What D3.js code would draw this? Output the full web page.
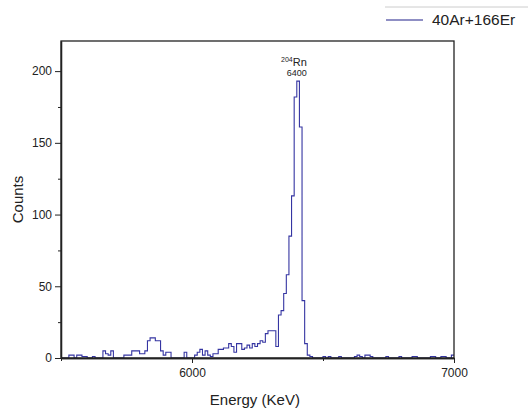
<!DOCTYPE html>
<html>
<head>
<meta charset="utf-8">
<script src="https://cdn.jsdelivr.net/npm/d3@7"></script>
<style>
  body { margin: 0; background: #fff; }
  svg { display: block; font-family: "Liberation Sans", Arial, sans-serif; }
</style>
</head>
<body>
<svg id="chart" width="528" height="413"></svg>
<script>
// Alpha spectrum, 40Ar+166Er, 10 keV bins starting at 5500 keV
const binStart = 5500;
const binWidth = 10;
const counts = [
    0, 0, 0, 2, 2, 0, 2, 2, 1, 1,
    0, 0, 1, 0, 0, 0, 5, 3, 2, 5,
    0, 0, 0, 0, 2, 2, 2, 5, 5, 5,
    3, 3, 5, 12, 14, 14, 12, 12, 5, 2,
    4, 4, 0, 0, 0, 0, 0, 4, 0, 0,
    0, 2, 4, 6, 2, 5, 2, 1, 3, 3,
    6, 6, 7, 7, 10, 8, 4, 10, 10, 6,
    7, 9, 7, 10, 8, 10, 12, 11, 17, 19,
    19, 19, 8, 30, 33, 45, 58, 85, 113, 182,
    193, 161, 40, 10, 2, 1, 0, 0, 0, 0,
    1, 0, 1, 0, 0, 0, 1, 0, 0, 0,
    0, 0, 1, 2, 1, 0, 2, 2, 1, 0,
    0, 0, 0, 0, 1, 0, 0, 0, 0, 1,
    0, 0, 0, 0, 1, 1, 0, 0, 0, 0,
    0, 1, 1, 0, 0, 1, 1, 0, 0, 2
];
const xTicks = [6000, 7000];
const xMinorTicks = [5500, 6500];
const yTicks = [0, 50, 100, 150, 200];
const yMinorTicks = [25, 75, 125, 175];
const seriesName = '40Ar+166Er';
const peak = { energy: 6400, mass: '204', element: 'Rn', label: '6400' };

const svg = d3.select('#chart');
const margin = { top: 41, right: 74, bottom: 55, left: 61 };
const width = 528, height = 413;
const innerWidth = width - margin.left - margin.right;
const innerHeight = height - margin.top - margin.bottom;
const lineColor = '#3535a2';

const xScale = d3.scaleLinear().domain([5500, 7000]).range([0, innerWidth]);
const yScale = d3.scaleLinear().domain([0, 221]).range([innerHeight, 0]);

const g = svg.append('g')
    .attr('transform', `translate(${margin.left}, ${margin.top})`);

// histogram as a step line
const points = counts.map((c, i) => [binStart + i * binWidth, c]);
points.push([binStart + counts.length * binWidth, counts[counts.length - 1]]);

const line = d3.line()
    .x(d => xScale(d[0]))
    .y(d => yScale(d[1]))
    .curve(d3.curveStepAfter);

g.append('path')
    .datum(points)
    .attr('fill', 'none')
    .attr('stroke', lineColor)
    .attr('stroke-width', 1.1)
    .attr('d', line);

// frame
g.append('rect')
    .attr('x', 0).attr('y', 0)
    .attr('width', innerWidth).attr('height', innerHeight)
    .attr('fill', 'none')
    .attr('stroke', '#222')
    .attr('stroke-width', 1.3);

// axes
g.append('g')
    .attr('transform', `translate(0, ${innerHeight})`)
    .call(d3.axisBottom(xScale).tickValues(xTicks).tickSizeInner(5).tickSizeOuter(0)
        .tickPadding(5).tickFormat(d3.format('d')));
g.append('g')
    .attr('class', 'minor')
    .attr('transform', `translate(0, ${innerHeight})`)
    .call(d3.axisBottom(xScale).tickValues(xMinorTicks).tickSizeInner(3).tickSizeOuter(0));

g.append('g')
    .call(d3.axisLeft(yScale).tickValues(yTicks).tickSizeInner(6).tickSizeOuter(0).tickPadding(3));
g.append('g')
    .attr('class', 'minor')
    .call(d3.axisLeft(yScale).tickValues(yMinorTicks).tickSizeInner(3).tickSizeOuter(0));

g.selectAll('.minor .tick text').remove();
g.selectAll('.domain').attr('stroke', '#222').attr('stroke-width', 1.3);
g.selectAll('.tick line').attr('stroke', '#222');
g.selectAll('.tick text')
    .attr('fill', '#222')
    .attr('font-size', '12px')
    .attr('font-family', '"Liberation Sans", Arial, sans-serif');

// axis titles
svg.append('text')
    .attr('x', margin.left + xScale(6240))
    .attr('y', 405)
    .attr('text-anchor', 'middle')
    .attr('font-size', '15px')
    .attr('fill', '#222')
    .text('Energy (KeV)');

svg.append('text')
    .attr('transform', `translate(23, ${margin.top + innerHeight / 2}) rotate(-90)`)
    .attr('text-anchor', 'middle')
    .attr('font-size', '15px')
    .attr('fill', '#222')
    .text('Counts');

// peak annotation
const px = xScale(peak.energy) + 10;
const ann = g.append('text')
    .attr('x', px)
    .attr('y', 25)
    .attr('text-anchor', 'end')
    .attr('fill', '#222');
ann.append('tspan').attr('font-size', '7px').attr('dy', '-4').text(peak.mass);
ann.append('tspan').attr('font-size', '11px').attr('dy', '4').text(peak.element);
g.append('text')
    .attr('x', px)
    .attr('y', 35)
    .attr('text-anchor', 'end')
    .attr('font-size', '9px')
    .attr('fill', '#222')
    .text(peak.label);

// legend
const legend = svg.append('g').attr('class', 'legend');
legend.append('line')
    .attr('x1', 385).attr('x2', 528)
    .attr('y1', 7).attr('y2', 7)
    .attr('stroke', '#ccc')
    .attr('stroke-width', 1);
legend.append('line')
    .attr('x1', 386).attr('x2', 423)
    .attr('y1', 20).attr('y2', 20)
    .attr('stroke', '#6a6ab0')
    .attr('stroke-width', 1.5);
legend.append('text')
    .attr('x', 432)
    .attr('y', 25)
    .attr('font-size', '15.5px')
    .attr('fill', '#222')
    .text(seriesName);
</script>
</body>
</html>
